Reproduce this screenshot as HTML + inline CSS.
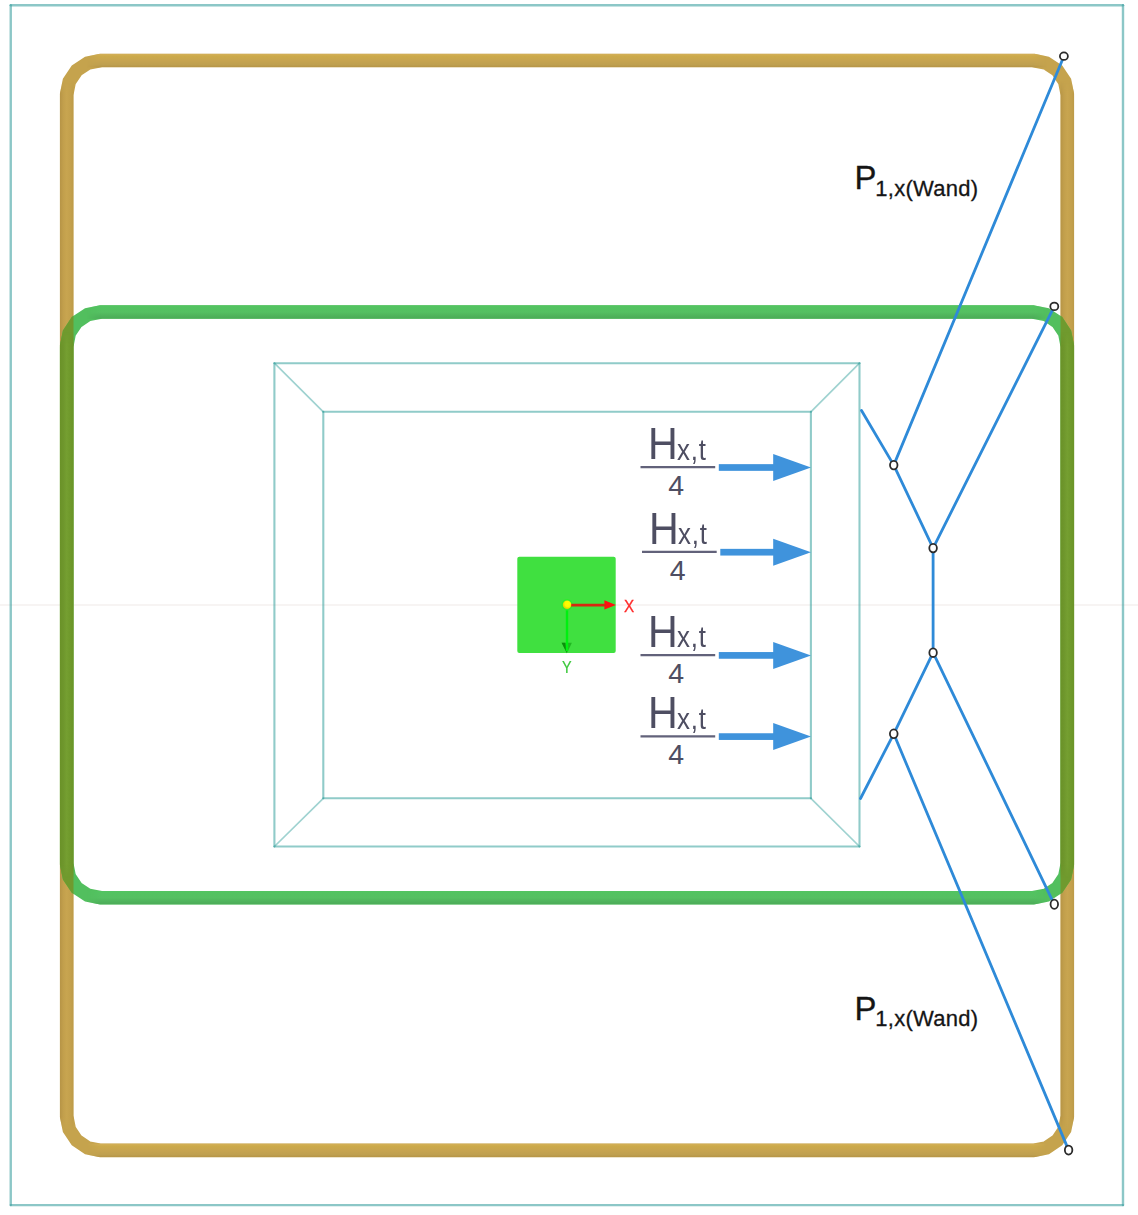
<!DOCTYPE html>
<html><head><meta charset="utf-8">
<style>
html,body{margin:0;padding:0;background:#ffffff;}
body{width:1138px;height:1215px;overflow:hidden;position:relative;font-family:"Liberation Sans",sans-serif;}
svg{position:absolute;left:0;top:0;}
.lbl{position:absolute;color:#4e4e62;white-space:nowrap;line-height:1;}
.p{position:absolute;color:#1e1e1e;white-space:nowrap;line-height:1;}
</style></head>
<body>
<svg width="1138" height="1215" viewBox="0 0 1138 1215">
<defs>
<mask id="gm" maskUnits="userSpaceOnUse" x="0" y="0" width="1138" height="1215"><path d="M1033.30,60.50 L1046.31,63.09 L1057.34,70.46 L1064.71,81.49 L1067.30,94.50 L1067.30,1116.40 L1064.71,1129.41 L1057.34,1140.44 L1046.31,1147.81 L1033.30,1150.40 L100.70,1150.40 L87.69,1147.81 L76.66,1140.44 L69.29,1129.41 L66.70,1116.40 L66.70,94.50 L69.29,81.49 L76.66,70.46 L87.69,63.09 L100.70,60.50 Z" fill="none" stroke-width="13.6" stroke-linejoin="miter" stroke="#fff"/></mask>
<mask id="nm" maskUnits="userSpaceOnUse" x="0" y="0" width="1138" height="1215"><path d="M1033.30,312.05 L1046.31,314.64 L1057.34,322.01 L1064.71,333.04 L1067.30,346.05 L1067.30,863.75 L1064.71,876.76 L1057.34,887.79 L1046.31,895.16 L1033.30,897.75 L100.70,897.75 L87.69,895.16 L76.66,887.79 L69.29,876.76 L66.70,863.75 L66.70,346.05 L69.29,333.04 L76.66,322.01 L87.69,314.64 L100.70,312.05 Z" fill="none" stroke-width="13.6" stroke-linejoin="miter" stroke="#fff"/></mask>
<radialGradient id="yd" cx="0.58" cy="0.4" r="0.75" fx="0.6" fy="0.38"><stop offset="0" stop-color="#ffff00"/><stop offset="0.45" stop-color="#fcf800"/><stop offset="0.8" stop-color="#d8d000"/><stop offset="1" stop-color="#a8a400"/></radialGradient>
<linearGradient id="gh" x1="0" y1="0" x2="0" y2="1"><stop offset="0" stop-color="#d4b05a"/><stop offset="0.2" stop-color="#ccaa4a"/><stop offset="0.5" stop-color="#c7a450"/><stop offset="0.8" stop-color="#bfa050"/><stop offset="1" stop-color="#b69446"/></linearGradient>
<linearGradient id="gv" x1="0" y1="0" x2="1" y2="0"><stop offset="0" stop-color="#b69446"/><stop offset="0.25" stop-color="#c29f4c"/><stop offset="0.5" stop-color="#c8a550"/><stop offset="0.8" stop-color="#c3a04c"/><stop offset="1" stop-color="#bc9a48"/></linearGradient>
<linearGradient id="nh" x1="0" y1="0" x2="0" y2="1"><stop offset="0" stop-color="#52c460"/><stop offset="0.5" stop-color="#55c062"/><stop offset="0.85" stop-color="#4eb05a"/><stop offset="1" stop-color="#4cac58"/></linearGradient>
<linearGradient id="ov" x1="0" y1="0" x2="1" y2="0"><stop offset="0" stop-color="#6a9228"/><stop offset="0.25" stop-color="#6e962c"/><stop offset="0.5" stop-color="#759f31"/><stop offset="0.8" stop-color="#6e982a"/><stop offset="1" stop-color="#6a9428"/></linearGradient>
<linearGradient id="fm1g" gradientUnits="userSpaceOnUse" x1="86.7" y1="0" x2="1047.3" y2="0"><stop offset="0" stop-color="#000"/><stop offset="0.0146" stop-color="#fff"/><stop offset="0.9854" stop-color="#fff"/><stop offset="1" stop-color="#000"/></linearGradient>
<mask id="fm1" maskUnits="userSpaceOnUse" x="0" y="0" width="1138" height="1215"><rect x="86.7" y="52.7" width="960.60" height="15.60" fill="url(#fm1g)"/></mask>
<linearGradient id="fm2g" gradientUnits="userSpaceOnUse" x1="86.7" y1="0" x2="1047.3" y2="0"><stop offset="0" stop-color="#000"/><stop offset="0.0146" stop-color="#fff"/><stop offset="0.9854" stop-color="#fff"/><stop offset="1" stop-color="#000"/></linearGradient>
<mask id="fm2" maskUnits="userSpaceOnUse" x="0" y="0" width="1138" height="1215"><rect x="86.7" y="1142.6000000000001" width="960.60" height="15.60" fill="url(#fm2g)"/></mask>
<linearGradient id="fm3g" gradientUnits="userSpaceOnUse" x1="0" y1="80.5" x2="0" y2="1130.4"><stop offset="0" stop-color="#000"/><stop offset="0.0133" stop-color="#fff"/><stop offset="0.9867" stop-color="#fff"/><stop offset="1" stop-color="#000"/></linearGradient>
<mask id="fm3" maskUnits="userSpaceOnUse" x="0" y="0" width="1138" height="1215"><rect x="58.900000000000006" y="80.5" width="15.60" height="1049.90" fill="url(#fm3g)"/></mask>
<linearGradient id="fm4g" gradientUnits="userSpaceOnUse" x1="0" y1="80.5" x2="0" y2="1130.4"><stop offset="0" stop-color="#000"/><stop offset="0.0133" stop-color="#fff"/><stop offset="0.9867" stop-color="#fff"/><stop offset="1" stop-color="#000"/></linearGradient>
<mask id="fm4" maskUnits="userSpaceOnUse" x="0" y="0" width="1138" height="1215"><rect x="1059.5" y="80.5" width="15.60" height="1049.90" fill="url(#fm4g)"/></mask>
<linearGradient id="fm5g" gradientUnits="userSpaceOnUse" x1="86.7" y1="0" x2="1047.3" y2="0"><stop offset="0" stop-color="#000"/><stop offset="0.0146" stop-color="#fff"/><stop offset="0.9854" stop-color="#fff"/><stop offset="1" stop-color="#000"/></linearGradient>
<mask id="fm5" maskUnits="userSpaceOnUse" x="0" y="0" width="1138" height="1215"><rect x="86.7" y="304.25" width="960.60" height="15.60" fill="url(#fm5g)"/></mask>
<linearGradient id="fm6g" gradientUnits="userSpaceOnUse" x1="86.7" y1="0" x2="1047.3" y2="0"><stop offset="0" stop-color="#000"/><stop offset="0.0146" stop-color="#fff"/><stop offset="0.9854" stop-color="#fff"/><stop offset="1" stop-color="#000"/></linearGradient>
<mask id="fm6" maskUnits="userSpaceOnUse" x="0" y="0" width="1138" height="1215"><rect x="86.7" y="889.95" width="960.60" height="15.60" fill="url(#fm6g)"/></mask>
<linearGradient id="fm7g" gradientUnits="userSpaceOnUse" x1="0" y1="332.05" x2="0" y2="877.75"><stop offset="0" stop-color="#000"/><stop offset="0.0257" stop-color="#fff"/><stop offset="0.9743" stop-color="#fff"/><stop offset="1" stop-color="#000"/></linearGradient>
<mask id="fm7" maskUnits="userSpaceOnUse" x="0" y="0" width="1138" height="1215"><rect x="58.900000000000006" y="332.05" width="15.60" height="545.70" fill="url(#fm7g)"/></mask>
<linearGradient id="fm8g" gradientUnits="userSpaceOnUse" x1="0" y1="332.05" x2="0" y2="877.75"><stop offset="0" stop-color="#000"/><stop offset="0.0257" stop-color="#fff"/><stop offset="0.9743" stop-color="#fff"/><stop offset="1" stop-color="#000"/></linearGradient>
<mask id="fm8" maskUnits="userSpaceOnUse" x="0" y="0" width="1138" height="1215"><rect x="1059.5" y="332.05" width="15.60" height="545.70" fill="url(#fm8g)"/></mask>
</defs>
<line x1="0" y1="605.1" x2="1138" y2="605.1" stroke="#f4f1ef" stroke-width="1.5"/>
<g stroke="#3ca0a0" stroke-opacity="0.59" stroke-width="2.4" stroke-linecap="round"><line x1="10.75" y1="5.3" x2="1123" y2="5.3"/><line x1="10.75" y1="1205.1" x2="1123" y2="1205.1"/><line x1="10.75" y1="5.3" x2="10.75" y2="1205.1"/><line x1="1123" y1="5.3" x2="1123" y2="1205.1"/></g>
<path d="M1033.30,60.50 L1046.31,63.09 L1057.34,70.46 L1064.71,81.49 L1067.30,94.50 L1067.30,1116.40 L1064.71,1129.41 L1057.34,1140.44 L1046.31,1147.81 L1033.30,1150.40 L100.70,1150.40 L87.69,1147.81 L76.66,1140.44 L69.29,1129.41 L66.70,1116.40 L66.70,94.50 L69.29,81.49 L76.66,70.46 L87.69,63.09 L100.70,60.50 Z" fill="none" stroke-width="13.6" stroke-linejoin="miter" stroke="#c5a34d"/>
<g mask="url(#gm)"><rect x="86.7" y="53.70" width="960.60" height="13.6" fill="url(#gh)" mask="url(#fm1)"/><rect x="86.7" y="1143.60" width="960.60" height="13.6" fill="url(#gh)" mask="url(#fm2)"/><rect x="59.90" y="80.50" width="13.6" height="1049.90" fill="url(#gv)" mask="url(#fm3)"/><rect x="1060.50" y="80.50" width="13.6" height="1049.90" fill="url(#gv)" mask="url(#fm4)"/></g>
<path d="M1033.30,312.05 L1046.31,314.64 L1057.34,322.01 L1064.71,333.04 L1067.30,346.05 L1067.30,863.75 L1064.71,876.76 L1057.34,887.79 L1046.31,895.16 L1033.30,897.75 L100.70,897.75 L87.69,895.16 L76.66,887.79 L69.29,876.76 L66.70,863.75 L66.70,346.05 L69.29,333.04 L76.66,322.01 L87.69,314.64 L100.70,312.05 Z" fill="none" stroke-width="13.6" stroke-linejoin="miter" stroke="#52bf5e"/>
<g mask="url(#nm)"><rect x="86.7" y="305.25" width="960.60" height="13.6" fill="url(#nh)" mask="url(#fm5)"/><rect x="86.7" y="890.95" width="960.60" height="13.6" fill="url(#nh)" mask="url(#fm6)"/></g>
<path d="M1033.30,312.05 L1046.31,314.64 L1057.34,322.01 L1064.71,333.04 L1067.30,346.05 L1067.30,863.75 L1064.71,876.76 L1057.34,887.79 L1046.31,895.16 L1033.30,897.75 L100.70,897.75 L87.69,895.16 L76.66,887.79 L69.29,876.76 L66.70,863.75 L66.70,346.05 L69.29,333.04 L76.66,322.01 L87.69,314.64 L100.70,312.05 Z" fill="none" stroke-width="13.6" stroke-linejoin="miter" stroke="#709a2e" mask="url(#gm)"/>
<g mask="url(#nm)"><rect x="59.90" y="332.05" width="13.6" height="545.70" fill="url(#ov)" mask="url(#fm7)"/><rect x="1060.50" y="332.05" width="13.6" height="545.70" fill="url(#ov)" mask="url(#fm8)"/></g>
<g fill="none" stroke="#3fa6a2" stroke-opacity="0.58" stroke-width="2.1" stroke-linecap="round"><line x1="274.4" y1="363.2" x2="859.5" y2="363.2"/><line x1="274.4" y1="846.5" x2="859.5" y2="846.5"/><line x1="274.4" y1="363.2" x2="274.4" y2="846.5"/><line x1="859.5" y1="363.2" x2="859.5" y2="846.5"/><line x1="323.3" y1="411.8" x2="810.9" y2="411.8"/><line x1="323.3" y1="798.3" x2="810.9" y2="798.3"/><line x1="323.3" y1="411.8" x2="323.3" y2="798.3"/><line x1="810.9" y1="411.8" x2="810.9" y2="798.3"/></g>
<g fill="none" stroke="#3fa6a2" stroke-opacity="0.5" stroke-width="1.7" stroke-linecap="round"><line x1="274.4" y1="363.2" x2="323.3" y2="411.8"/><line x1="859.5" y1="363.2" x2="810.9" y2="411.8"/><line x1="274.4" y1="846.5" x2="323.3" y2="798.3"/><line x1="859.5" y1="846.5" x2="810.9" y2="798.3"/></g>
<rect x="517.3" y="556.7" width="98.4" height="96.3" rx="2" fill="#40e040"/>
<polygon points="604.4,600.3 615.9,604.9 604.4,609.6" fill="#ff1010"/>
<polygon points="561.6,642.7 571.9,642.7 566.9,653.3" fill="#22b822"/>
<polygon points="561.6,642.7 565.2,642.7 566.9,653.3" fill="#0c8e0c"/>
<line x1="567.0" y1="604.9" x2="567.0" y2="651" stroke="#00f010" stroke-width="2.4"/>
<circle cx="567.05" cy="604.8" r="5.7" fill="#2cec2c"/>
<line x1="570" y1="605.2" x2="606" y2="605.2" stroke="#d72810" stroke-width="2.8"/>
<circle cx="567.05" cy="604.8" r="4.25" fill="url(#yd)"/>
<g stroke="#2e8ad8" stroke-width="2.8" fill="none" stroke-linecap="round" stroke-linejoin="round"><polyline points="861.5,410.5 893.75,465.1 1063.9,56.2"/><polyline points="893.75,465.1 933.1,548.1 1054.3,306.4"/><polyline points="933.1,548.1 933.1,652.7"/><polyline points="1054.3,904.3 933.1,652.7 893.75,733.8 860.5,798.5"/><polyline points="893.75,733.8 1068.6,1150.1"/></g>
<g fill="#fff" stroke="#2c2c2c" stroke-width="1.8"><ellipse cx="1063.9" cy="56.2" rx="4.0" ry="3.75"/><ellipse cx="1054.3" cy="306.4" rx="4.0" ry="3.75"/><ellipse cx="893.75" cy="465.1" rx="3.75" ry="4.3"/><ellipse cx="933.1" cy="548.1" rx="3.8" ry="4.2"/><ellipse cx="933.1" cy="652.7" rx="3.75" ry="4.3"/><ellipse cx="893.75" cy="733.8" rx="3.85" ry="4.35"/><ellipse cx="1054.3" cy="904.3" rx="3.75" ry="4.6"/><ellipse cx="1068.6" cy="1150.1" rx="3.75" ry="4.45"/></g>
<g fill="#3f93dc"><rect x="718.8" y="464.15" width="56.0" height="6.7"/><polygon points="773.2,454.00 811,467.50 773.2,481.00"/><rect x="720.3" y="548.85" width="54.5" height="6.7"/><polygon points="773.2,538.70 811,552.20 773.2,565.70"/><rect x="718.8" y="652.05" width="56.0" height="6.7"/><polygon points="773.2,641.90 811,655.40 773.2,668.90"/><rect x="718.8" y="733.25" width="56.0" height="6.7"/><polygon points="773.2,723.10 811,736.60 773.2,750.10"/></g>
<g stroke="#62627a" stroke-width="2.3"><line x1="640.5" y1="467.2" x2="715.2" y2="467.2"/><line x1="642.0" y1="551.9" x2="716.7" y2="551.9"/><line x1="640.5" y1="655.1" x2="715.2" y2="655.1"/><line x1="640.5" y1="736.3" x2="715.2" y2="736.3"/></g>
</svg>
<div class="p" style="left:624.4px;top:597.5px;font-size:16.4px;color:#ff2a2a;transform:scaleX(0.93);transform-origin:0 0;-webkit-text-stroke:0.3px #ff2a2a;">X</div>
<div class="p" style="left:562.4px;top:659.6px;font-size:16px;color:#3cc83c;transform:scaleX(0.9);transform-origin:0 0;-webkit-text-stroke:0.2px #3cc83c;">Y</div>
<div class="lbl" style="left:647.86px;top:421.30px;font-size:45px;transform:scaleX(0.915);transform-origin:0 0;">H</div>
<div class="lbl" style="left:676.84px;top:434.59px;font-size:29.4px;letter-spacing:0.9px;transform:scaleX(0.88);transform-origin:0 0;">x,t</div>
<div class="lbl" style="left:668.23px;top:470.83px;font-size:28.5px;">4</div>
<div class="lbl" style="left:649.36px;top:506.00px;font-size:45px;transform:scaleX(0.915);transform-origin:0 0;">H</div>
<div class="lbl" style="left:678.34px;top:519.29px;font-size:29.4px;letter-spacing:0.9px;transform:scaleX(0.88);transform-origin:0 0;">x,t</div>
<div class="lbl" style="left:669.73px;top:555.53px;font-size:28.5px;">4</div>
<div class="lbl" style="left:647.86px;top:609.20px;font-size:45px;transform:scaleX(0.915);transform-origin:0 0;">H</div>
<div class="lbl" style="left:676.84px;top:622.49px;font-size:29.4px;letter-spacing:0.9px;transform:scaleX(0.88);transform-origin:0 0;">x,t</div>
<div class="lbl" style="left:668.23px;top:658.73px;font-size:28.5px;">4</div>
<div class="lbl" style="left:647.86px;top:690.40px;font-size:45px;transform:scaleX(0.915);transform-origin:0 0;">H</div>
<div class="lbl" style="left:676.84px;top:703.69px;font-size:29.4px;letter-spacing:0.9px;transform:scaleX(0.88);transform-origin:0 0;">x,t</div>
<div class="lbl" style="left:668.23px;top:739.92px;font-size:28.5px;">4</div>
<div class="p" style="left:854.47px;top:162.24px;font-size:32.9px;-webkit-text-stroke:0.3px #151515;color:#151515;">P</div>
<div class="p" style="left:875.34px;top:178.08px;font-size:22px;letter-spacing:0.25px;-webkit-text-stroke:0.3px #151515;color:#151515;">1,x(Wand)</div>
<div class="p" style="left:854.47px;top:992.54px;font-size:32.9px;-webkit-text-stroke:0.3px #151515;color:#151515;">P</div>
<div class="p" style="left:875.34px;top:1008.38px;font-size:22px;letter-spacing:0.25px;-webkit-text-stroke:0.3px #151515;color:#151515;">1,x(Wand)</div>
</body></html>
